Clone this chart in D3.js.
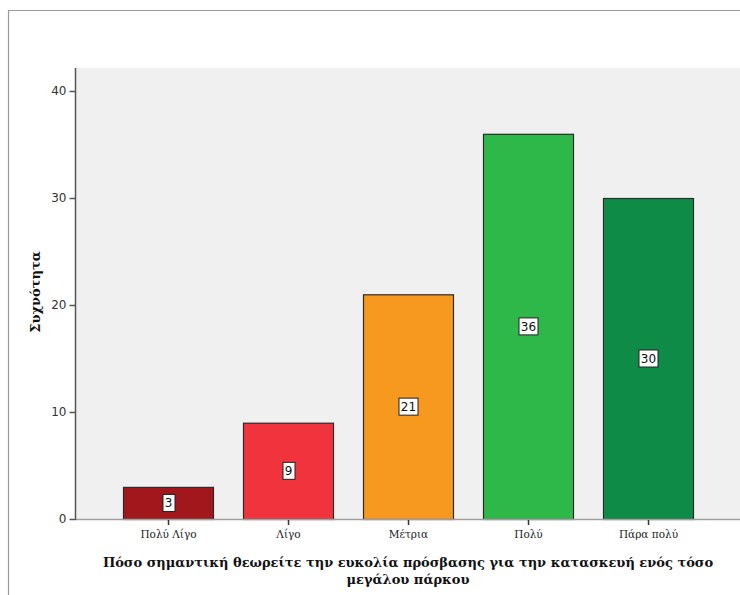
<!DOCTYPE html>
<html>
<head>
<meta charset="utf-8">
<script src="https://cdnjs.cloudflare.com/ajax/libs/d3/7.8.5/d3.min.js"></script>
<style>
  html, body { margin: 0; padding: 0; background: #fff; }
  svg { display: block; }
</style>
</head>
<body>
<script>
// Frequencies by response category
const categories = ["Πολύ Λίγο", "Λίγο", "Μέτρια", "Πολύ", "Πάρα πολύ"];
const counts = [3, 9, 21, 36, 30];
const barColors = ["#a1171b", "#f0333c", "#f7981f", "#2fb84a", "#0f8b48"];
const yTicks = [0, 10, 20, 30, 40];
const xTitleLines = ["Πόσο σημαντική θεωρείτε την ευκολία πρόσβασης για την κατασκευή ενός τόσο", "μεγάλου πάρκου"];
const yTitle = "Συχνότητα";

const W = 740, H = 595;
const plot = { left: 75, top: 68, right: 740, bottom: 519 };
const serif = "'DejaVu Serif', 'Liberation Serif', serif";

const svg = d3.select("body").append("svg").attr("width", W).attr("height", H);

// outer frame (top and left edges)
svg.append("path")
  .attr("d", `M8.5,${H} V10.5 H${W}`)
  .attr("fill", "none").attr("stroke", "#9a9a9a").attr("stroke-width", 1.2);

// plot background
svg.append("rect")
  .attr("x", plot.left).attr("y", plot.top)
  .attr("width", plot.right - plot.left).attr("height", plot.bottom - plot.top)
  .attr("fill", "#f0f0f0");

const x = d3.scaleBand().domain(categories).range([108, 708]).paddingInner(0.25).paddingOuter(0.125);
const y = d3.scaleLinear().domain([0, 40]).range([plot.bottom, 91]);

// bars
svg.append("g").selectAll("rect").data(categories).join("rect")
  .attr("x", d => x(d) + 0.5)
  .attr("y", (d, i) => y(counts[i]) + 0.5)
  .attr("width", x.bandwidth())
  .attr("height", (d, i) => y(0) - y(counts[i]))
  .attr("fill", (d, i) => barColors[i])
  .attr("stroke", "#2b2b2b").attr("stroke-width", 1.2);

// x axis baseline
svg.append("line")
  .attr("x1", plot.left).attr("x2", plot.right)
  .attr("y1", plot.bottom + 0.5).attr("y2", plot.bottom + 0.5)
  .attr("stroke", "#a0a0a0").attr("stroke-width", 1.5);

// x axis ticks and labels
const xAxis = d3.axisBottom(x).tickSize(5).tickSizeOuter(0).tickPadding(6);
const gx = svg.append("g").attr("transform", `translate(0.5,${plot.bottom + 1})`).call(xAxis);
gx.select(".domain").remove();
gx.selectAll(".tick line").attr("stroke", "#333").attr("stroke-width", 1.5);
gx.selectAll(".tick text")
  .attr("font-family", serif)
  .attr("font-size", 10.5).attr("fill", "#222");

// y axis
const yAxis = d3.axisLeft(y).tickValues(yTicks).tickSize(6).tickSizeOuter(0).tickPadding(3);
const gy = svg.append("g").attr("transform", `translate(${plot.left + 0.5},0)`).call(yAxis);
gy.select(".domain").attr("d", `M0,${plot.top}V${plot.bottom + 1}`).attr("stroke", "#555").attr("stroke-width", 1.5);
gy.selectAll(".tick line").attr("stroke", "#555").attr("stroke-width", 1.5);
gy.selectAll(".tick text")
  .attr("font-family", "'DejaVu Sans', sans-serif")
  .attr("font-size", 12).attr("fill", "#333");

// value labels in white boxes at bar mid-height
const labels = svg.append("g").selectAll("g").data(categories).join("g")
  .attr("transform", (d, i) => `translate(${x(d) + x.bandwidth() / 2 + 0.5},${y(counts[i] / 2)})`);
labels.each(function (d, i) {
  const g = d3.select(this);
  const t = g.append("text")
    .attr("text-anchor", "middle").attr("dy", "0.36em")
    .attr("font-family", "'DejaVu Sans', sans-serif").attr("font-size", 12)
    .attr("fill", "#111").text(counts[i]);
  const bb = t.node().getBBox();
  g.insert("rect", "text")
    .attr("x", Math.round(bb.x - 2) + 0.5).attr("y", -8.5)
    .attr("width", Math.round(bb.width + 4)).attr("height", 17)
    .attr("fill", "#fff").attr("stroke", "#222").attr("stroke-width", 1);
});

// x axis title
svg.append("text")
  .attr("x", 408).attr("y", 567)
  .attr("text-anchor", "middle")
  .attr("font-family", serif)
  .attr("font-weight", "bold").attr("font-size", 13).attr("fill", "#111")
  .selectAll("tspan").data(xTitleLines).join("tspan")
  .attr("x", 408).attr("dy", (d, i) => i === 0 ? 0 : 17).text(d => d);

// y axis title
svg.append("text")
  .attr("transform", "translate(35,292) rotate(-90)")
  .attr("text-anchor", "middle").attr("dy", "0.35em")
  .attr("font-family", serif)
  .attr("font-weight", "bold").attr("font-size", 13).attr("fill", "#111")
  .text(yTitle);
</script>
</body>
</html>
